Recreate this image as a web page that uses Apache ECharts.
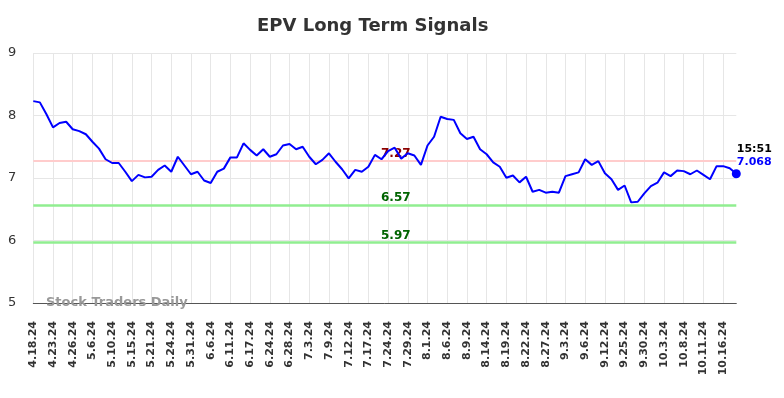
<!DOCTYPE html>
<html>
<head>
<meta charset="utf-8">
<script src="https://cdn.jsdelivr.net/npm/echarts@6/dist/echarts.min.js"></script>
<style>
html,body{margin:0;padding:0;background:#fff;}
#chart{width:784px;height:398px;}
</style>
</head>
<body>
<div id="chart"></div>
<script>
const dates = [
 '4.18.24','4.19.24','4.22.24','4.23.24','4.24.24','4.25.24','4.26.24','4.29.24','5.1.24',
 '5.6.24','5.7.24','5.9.24','5.10.24','5.13.24','5.14.24','5.15.24','5.16.24','5.20.24',
 '5.21.24','5.22.24','5.23.24','5.24.24','5.28.24','5.30.24','5.31.24','6.3.24','6.5.24',
 '6.6.24','6.7.24','6.10.24','6.11.24','6.12.24','6.14.24','6.17.24','6.18.24','6.21.24',
 '6.24.24','6.25.24','6.27.24','6.28.24','7.1.24','7.2.24','7.3.24','7.5.24','7.8.24',
 '7.9.24','7.10.24','7.11.24','7.12.24','7.15.24','7.16.24','7.17.24','7.18.24','7.23.24',
 '7.24.24','7.25.24','7.26.24','7.29.24','7.30.24','7.31.24','8.1.24','8.2.24','8.5.24',
 '8.6.24','8.7.24','8.8.24','8.9.24','8.12.24','8.13.24','8.14.24','8.15.24','8.16.24',
 '8.19.24','8.20.24','8.21.24','8.22.24','8.23.24','8.26.24','8.27.24','8.28.24','8.30.24',
 '9.3.24','9.4.24','9.5.24','9.6.24','9.9.24','9.11.24','9.12.24','9.16.24','9.20.24',
 '9.25.24','9.26.24','9.27.24','9.30.24','10.1.24','10.2.24','10.3.24','10.4.24','10.7.24',
 '10.8.24','10.9.24','10.10.24','10.11.24','10.14.24','10.15.24','10.16.24','10.17.24','10.18.24'
];
const prices = [
 8.23, 8.21, 8.02, 7.81, 7.88, 7.90, 7.78, 7.75, 7.70, 7.58,
 7.47, 7.30, 7.24, 7.24, 7.10, 6.95, 7.05, 7.01, 7.02, 7.13,
 7.20, 7.10, 7.34, 7.20, 7.06, 7.10, 6.96, 6.92, 7.10, 7.15,
 7.33, 7.33, 7.555, 7.45, 7.36, 7.46, 7.34, 7.38, 7.52, 7.545,
 7.46, 7.50, 7.34, 7.22, 7.29, 7.395, 7.26, 7.14, 6.995, 7.13,
 7.10, 7.18, 7.37, 7.30, 7.43, 7.485, 7.31, 7.395, 7.36, 7.21,
 7.52, 7.66, 7.98, 7.945, 7.93, 7.715, 7.625, 7.66, 7.46, 7.38,
 7.25, 7.18, 7.005, 7.04, 6.93, 7.02, 6.78, 6.81, 6.765, 6.78,
 6.765, 7.03, 7.06, 7.09, 7.30, 7.21, 7.27, 7.075, 6.98, 6.81,
 6.88, 6.61, 6.62, 6.755, 6.87, 6.925, 7.09, 7.03, 7.12, 7.11,
 7.06, 7.12, 7.05, 6.98, 7.19, 7.19, 7.155, 7.068
];
const resistance = [7.27];
const supports = [6.57, 5.97];
const yTicks = [5, 6, 7, 8, 9];
const lastTime = '15:51';
const titleText = 'EPV Long Term Signals';
const watermark = 'Stock Traders Daily';

const chart = echarts.init(document.getElementById('chart'), null, {renderer: 'canvas'});
const lastIdx = prices.length - 1;
const FONT = 'DejaVu Sans';

const lineLabel = (color) => ({
  show: true,
  position: 'middle',
  formatter: (p) => p.value.toFixed(2),
  color: color,
  fontFamily: FONT,
  fontWeight: 'bold',
  fontSize: 12,
  padding: [0, 0, 0, 22],
  distance: 1
});

const option = {
  animation: false,
  backgroundColor: '#fff',
  title: {
    text: titleText,
    left: 257,
    top: 17,
    padding: 0,
    textStyle: {fontFamily: FONT, fontSize: 18, fontWeight: 'bold', color: '#333'}
  },
  grid: {left: 33.3, right: 47.7, top: 53, bottom: 95, containLabel: false},
  xAxis: {
    type: 'category',
    data: dates,
    boundaryGap: false,
    axisLine: {show: true, lineStyle: {color: '#555', width: 1}},
    axisTick: {show: false},
    axisLabel: {
      interval: 2, rotate: 90, margin: 18,
      fontFamily: FONT, fontSize: 11, fontWeight: 'bold', color: '#333'
    },
    splitLine: {show: true, interval: 2, lineStyle: {color: '#e6e6e6', width: 1}}
  },
  yAxis: {
    type: 'value',
    min: yTicks[0], max: yTicks[yTicks.length - 1], interval: 1,
    axisLine: {show: false},
    axisTick: {show: false},
    axisLabel: {margin: 17, fontFamily: FONT, fontSize: 13, color: '#333'},
    splitLine: {show: true, lineStyle: {color: '#e6e6e6', width: 1}}
  },
  graphic: [{
    type: 'text',
    left: 46, top: 296,
    style: {text: watermark, fontFamily: FONT, fontSize: 13, fontWeight: 'bold', fill: '#999'},
    z: 100
  }],
  series: [{
    type: 'line',
    data: prices,
    symbol: 'none',
    lineStyle: {color: '#0000ff', width: 2},
    z: 3,
    markLine: {
      silent: true,
      symbol: ['none', 'none'],
      data: [
        {yAxis: resistance[0], lineStyle: {color: '#ffcccc', width: 2, type: 'solid'}, label: lineLabel('#8b0000')},
        {yAxis: supports[0], lineStyle: {color: '#90ee90', width: 2.5, type: 'solid'}, label: lineLabel('#006400')},
        {yAxis: supports[1], lineStyle: {color: '#90ee90', width: 2.5, type: 'solid'}, label: lineLabel('#006400')}
      ],
      z: 2
    }
  }, {
    type: 'scatter',
    data: [[lastIdx, prices[lastIdx]]],
    symbol: 'circle',
    symbolSize: 9,
    itemStyle: {color: '#0000ff', opacity: 1},
    z: 5,
    label: {
      show: true,
      position: [5, -27],
      align: 'left',
      formatter: (p) => '{t|' + lastTime + '}\n{v|' + p.value[1].toFixed(3) + '}',
      rich: {
        t: {fontFamily: FONT, fontSize: 11, fontWeight: 'bold', color: '#000', lineHeight: 13},
        v: {fontFamily: FONT, fontSize: 11, fontWeight: 'bold', color: '#0000ff', lineHeight: 13}
      }
    }
  }]
};
chart.setOption(option);
</script>
</body>
</html>
